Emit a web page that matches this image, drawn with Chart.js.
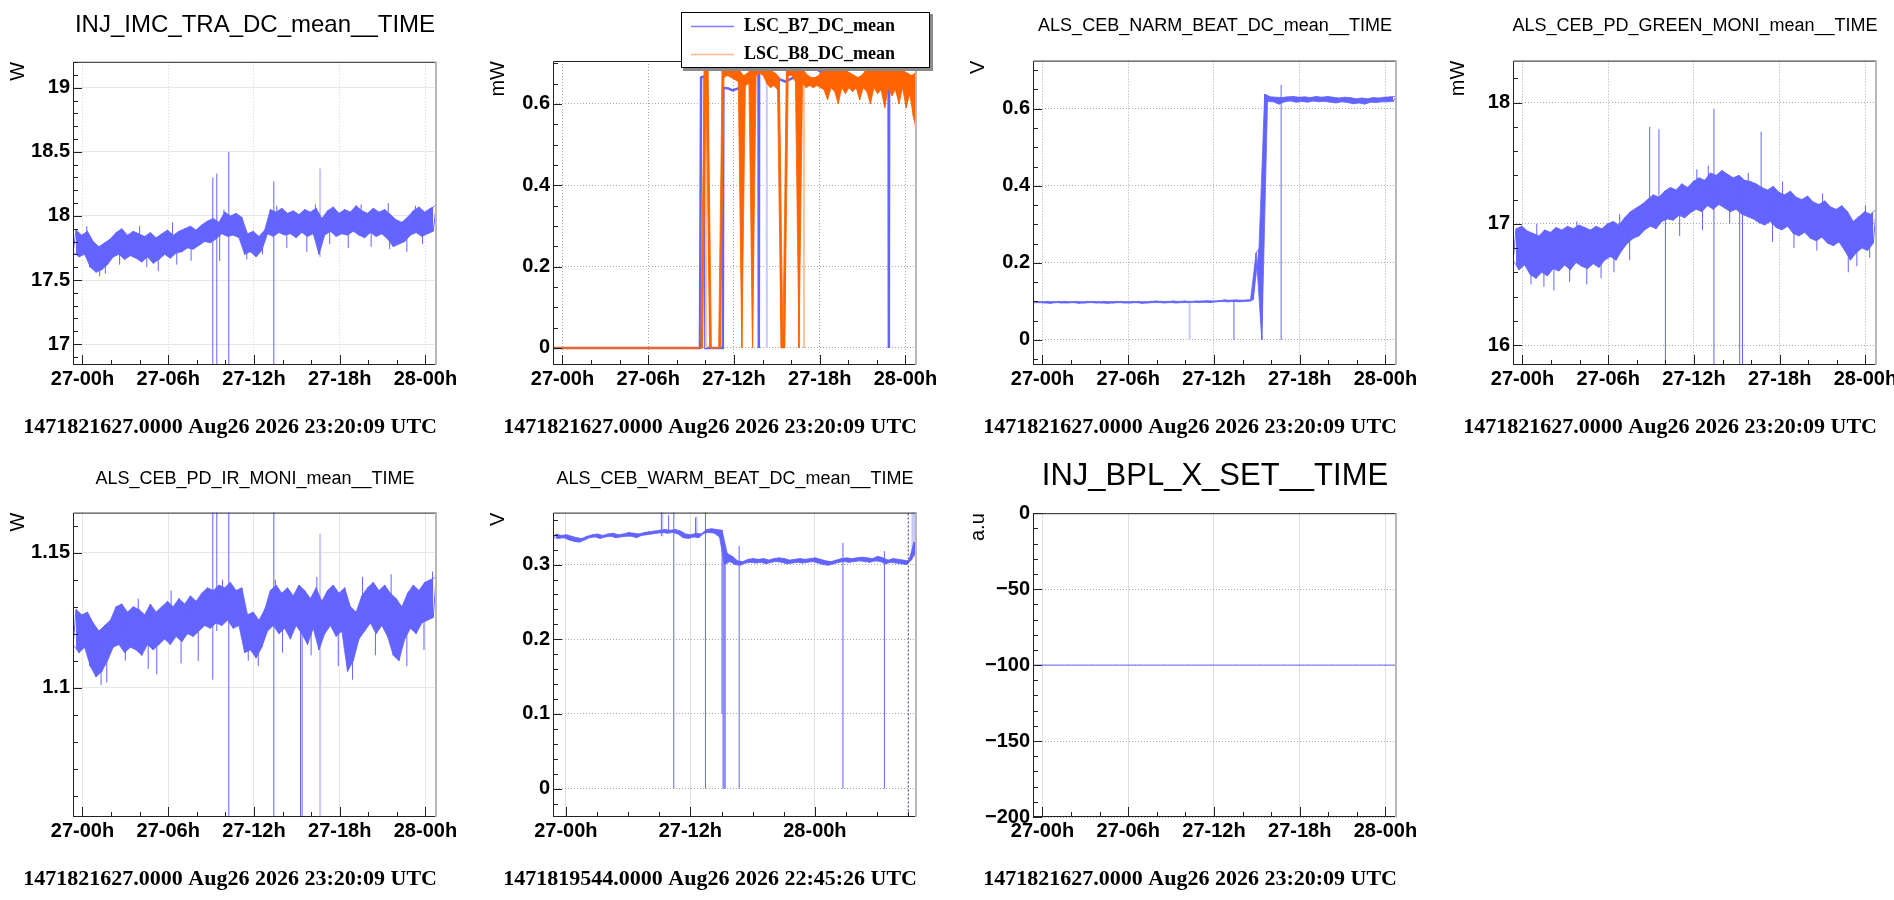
<!DOCTYPE html>
<html>
<head>
<meta charset="utf-8">
<title>Detector channels trend</title>
<script src="https://cdn.jsdelivr.net/npm/chart.js@4.4.1/dist/chart.umd.min.js"></script>
<style>
html, body { margin: 0; padding: 0; background: #fff; width: 1894px; height: 900px; overflow: hidden; }
canvas { position: absolute; }
</style>
</head>
<body>
<canvas id="imcChart" width="510" height="452" style="left:0px;top:0px;width:510px;height:452px"></canvas>
<canvas id="lscChart" width="510" height="452" style="left:480px;top:0px;width:510px;height:452px"></canvas>
<canvas id="narmChart" width="510" height="452" style="left:960px;top:0px;width:510px;height:452px"></canvas>
<canvas id="greenChart" width="510" height="452" style="left:1440px;top:0px;width:510px;height:452px"></canvas>
<canvas id="irChart" width="510" height="452" style="left:0px;top:452px;width:510px;height:452px"></canvas>
<canvas id="warmChart" width="510" height="452" style="left:480px;top:452px;width:510px;height:452px"></canvas>
<canvas id="bplChart" width="510" height="452" style="left:960px;top:452px;width:510px;height:452px"></canvas>
<script>
// Time axis: hours counted from 27-00h
const timeTickHours = [0, 6, 12, 18, 24];
const timeTickLabels = ['27-00h', '27-06h', '27-12h', '27-18h', '28-00h'];
const warmTickHours = [0, 12, 24];
const warmTickLabels = ['27-00h', '27-12h', '28-00h'];

// Y tick labels
const imcTicks = [17, 17.5, 18, 18.5, 19];
const lscTicks = [0, 0.2, 0.4, 0.6];
const narmTicks = [0, 0.2, 0.4, 0.6];
const greenTicks = [16, 17, 18];
const irTicks = [1.1, 1.15];
const warmTicks = [0, 0.1, 0.2, 0.3];
const bplTicks = [0, -50, -100, -150, -200];

// INJ_IMC_TRA_DC_mean : min/max per 0.4 h bin, first bin at -0.65 h
const imcBinStart = -0.65, imcBinWidth = 0.4;
const imcMax = [17.89,17.85,17.88,17.80,17.76,17.79,17.82,17.87,17.90,17.85,17.88,17.86,17.84,17.87,17.83,17.86,17.89,17.85,17.88,17.90,17.92,17.89,17.93,17.96,17.98,17.95,18.03,18.00,18.02,17.99,17.86,17.88,17.84,17.89,18.05,18.03,18.06,18.02,18.04,18.01,18.05,18.03,18.06,17.98,18.04,18.07,18.02,18.05,18.03,18.08,18.04,18.02,18.06,18.03,18.05,18.01,17.97,17.95,17.99,18.04,18.07,18.03,18.06,18.08];
const imcMin = [17.72,17.68,17.70,17.60,17.56,17.58,17.62,17.68,17.70,17.66,17.69,17.67,17.64,17.68,17.63,17.66,17.70,17.67,17.71,17.72,17.75,17.74,17.77,17.80,17.79,17.82,17.86,17.84,17.85,17.83,17.70,17.72,17.68,17.73,17.86,17.84,17.87,17.85,17.86,17.83,17.87,17.84,17.86,17.70,17.85,17.88,17.84,17.86,17.85,17.88,17.85,17.83,17.87,17.84,17.86,17.82,17.76,17.78,17.80,17.85,17.87,17.84,17.86,17.88];
const imcNeedleTime = [0.3, 0.5, 1.2, 1.6, 2.6, 4.0, 4.5, 5.3, 6.3, 6.6, 7.6, 9.6, 9.9, 11.5, 12.6, 13.6, 14.3, 15.7, 16.3, 17.3, 18.6, 19.5, 20.2, 21.4, 21.5, 22.7, 23.3, 23.8];
const imcNeedleLow = [17.80, 17.60, 17.53, 17.55, 17.62, 17.78, 17.60, 17.57, 17.80, 17.62, 17.65, 17.65, 17.92, 17.66, 17.70, 17.95, 17.75, 17.72, 17.95, 17.78, 17.75, 17.95, 17.76, 17.95, 17.74, 17.72, 17.95, 17.78];
const imcNeedleHigh = [17.92, 17.75, 17.70, 17.70, 17.78, 17.92, 17.75, 17.75, 17.95, 17.78, 17.82, 17.90, 18.05, 17.80, 17.82, 18.08, 17.92, 17.90, 18.09, 17.95, 17.92, 18.09, 17.92, 18.10, 17.92, 17.90, 18.08, 17.95];
const imcSpikeTime = [9.12, 9.40, 10.24, 13.39];
const imcSpikeLow = [0, 0, 0, 0];
const imcSpikeHigh = [18.30, 18.33, 18.50, 18.27];
const imcFaintTime = [16.63];
const imcFaintLow = [17.68];
const imcFaintHigh = [18.37];

// LSC_B7_DC_mean / LSC_B8_DC_mean
const b7Time = [-0.66, 9.62, 9.66, 9.70, 9.95, 10.00, 11.22, 11.26, 11.6, 11.9, 12.3, 12.8, 13.3, 13.72, 13.74, 13.76, 14.3, 14.8, 15.2, 15.6, 16.2, 16.7, 17.2, 17.8, 18.5, 19.2, 19.9, 20.6, 21.3, 22.0, 22.5, 22.82, 22.84, 22.86, 23.5, 24.2, 24.78, 24.80];
const b7Value = [0, 0, 0.33, 0.665, 0.668, 0, 0, 0.640, 0.638, 0.633, 0.638, 0.655, 0.672, 0.690, 0, 0.690, 0.680, 0.670, 0.660, 0.655, 0.665, 0.680, 0.690, 0.685, 0.670, 0.655, 0.645, 0.655, 0.675, 0.690, 0.685, 0.680, 0, 0.680, 0.670, 0.660, 0.655, 0];
const b7FaintTime = [14.3];
const b7FaintLow = [0];
const b7FaintHigh = [0.68];
const b8LeadTime = [-0.66];
const b8LeadValue = [0];
const b8BinStart = 9.55, b8BinWidth = 0.25;
const b8Min = [0.000,0.000,0.660,0.000,0.000,0.000,0.000,0.665,0.670,0.665,0.660,0.655,0.000,0.645,0.650,0.000,0.670,0.675,0.670,0.650,0.640,0.645,0.635,0.000,0.000,0.670,0.670,0.655,0.000,0.650,0.640,0.645,0.640,0.645,0.640,0.635,0.610,0.640,0.630,0.600,0.640,0.625,0.640,0.630,0.640,0.610,0.640,0.630,0.600,0.640,0.625,0.635,0.590,0.640,0.620,0.635,0.600,0.640,0.590,0.625,0.570,0.530];
const b8Max = [0.000,0.700,0.705,0.000,0.000,0.000,0.680,0.695,0.700,0.705,0.690,0.680,0.670,0.675,0.685,0.690,0.700,0.705,0.700,0.690,0.680,0.675,0.665,0.020,0.685,0.700,0.705,0.695,0.685,0.680,0.670,0.665,0.665,0.670,0.680,0.690,0.695,0.700,0.705,0.700,0.690,0.680,0.675,0.670,0.665,0.670,0.680,0.690,0.695,0.700,0.700,0.705,0.705,0.700,0.695,0.690,0.685,0.680,0.675,0.670,0.675,0.660];
const b8FaintTime = [10.05, 16.9];
const b8FaintLow = [0, 0];
const b8FaintHigh = [0.66, 0.66];

// ALS_CEB_NARM_BEAT_DC_mean
const narmBinStart = -0.65, narmBinWidth = 0.4;
const narmMax = [0.100,0.099,0.100,0.099,0.100,0.100,0.099,0.100,0.099,0.100,0.100,0.099,0.100,0.099,0.100,0.100,0.099,0.100,0.100,0.099,0.100,0.101,0.100,0.100,0.101,0.100,0.101,0.100,0.101,0.101,0.102,0.101,0.102,0.104,0.103,0.104,0.103,0.104,0.105,0.236,0.638,0.631,0.630,0.629,0.631,0.632,0.630,0.631,0.629,0.632,0.630,0.632,0.630,0.628,0.630,0.629,0.626,0.628,0.626,0.629,0.628,0.630,0.631,0.632];
const narmMin = [0.096,0.097,0.096,0.095,0.097,0.096,0.096,0.097,0.095,0.096,0.097,0.096,0.096,0.095,0.096,0.097,0.096,0.096,0.097,0.095,0.096,0.097,0.097,0.096,0.097,0.096,0.097,0.097,0.098,0.097,0.098,0.097,0.099,0.100,0.099,0.100,0.099,0.100,0.101,0.226,0.000,0.619,0.618,0.612,0.618,0.620,0.617,0.619,0.617,0.620,0.618,0.619,0.617,0.615,0.618,0.616,0.613,0.615,0.612,0.617,0.616,0.618,0.618,0.619];
const narmSpikeTime = [13.4, 16.7];
const narmSpikeLow = [0, 0];
const narmSpikeHigh = [0.104, 0.662];
const narmFaintTime = [10.3];
const narmFaintLow = [0];
const narmFaintHigh = [0.097];

// ALS_CEB_PD_GREEN_MONI_mean
const greenBinStart = -0.65, greenBinWidth = 0.4;
const greenMax = [16.96,16.98,16.94,16.92,16.90,16.95,16.93,16.97,16.95,16.98,16.96,16.99,16.97,16.95,16.98,16.96,17.00,17.02,16.99,17.05,17.10,17.13,17.16,17.20,17.24,17.22,17.27,17.30,17.28,17.33,17.30,17.35,17.38,17.36,17.42,17.40,17.44,17.41,17.38,17.40,17.36,17.35,17.33,17.30,17.28,17.31,17.26,17.24,17.27,17.22,17.20,17.23,17.18,17.16,17.19,17.14,17.12,17.15,17.10,17.02,17.06,17.10,17.08,17.12];
const greenMin = [16.70,16.62,16.66,16.58,16.55,16.60,16.57,16.63,16.61,16.66,16.62,16.68,16.65,16.63,16.67,16.64,16.70,16.73,16.70,16.78,16.84,16.88,16.90,16.95,16.98,16.96,17.02,17.04,17.03,17.07,17.05,17.09,17.12,17.10,17.15,17.12,17.16,17.13,17.10,17.12,17.08,17.06,17.04,17.01,16.99,17.02,16.97,16.95,16.98,16.92,16.90,16.93,16.88,16.86,16.89,16.84,16.82,16.85,16.78,16.70,16.76,16.80,16.78,16.84];
const greenNeedleTime = [0.6, 1.0, 1.5, 2.2, 3.3, 3.8, 4.5, 5.5, 6.4, 6.8, 7.5, 11.0, 12.2, 12.6, 13.0, 14.5, 15.8, 17.5, 18.2, 19.0, 20.6, 21.0, 22.8, 23.4, 24.0, 24.3];
const greenNeedleLow = [16.50, 16.85, 16.48, 16.45, 16.52, 16.85, 16.50, 16.55, 16.60, 16.95, 16.70, 16.90, 17.30, 16.95, 17.30, 17.00, 17.30, 16.85, 17.20, 16.80, 16.78, 17.10, 16.60, 16.65, 17.00, 16.72];
const greenNeedleHigh = [16.75, 17.00, 16.70, 16.68, 16.75, 17.02, 16.72, 16.78, 16.82, 17.08, 16.95, 17.15, 17.45, 17.20, 17.48, 17.25, 17.42, 17.10, 17.35, 17.05, 17.00, 17.25, 16.85, 16.88, 17.15, 16.95];
const greenSpikeTime = [8.9, 9.55, 10.0, 13.4, 15.2, 15.4, 16.7];
const greenSpikeLow = [17.0, 17.05, 0, 0, 0, 0, 17.1];
const greenSpikeHigh = [17.80, 17.78, 17.15, 17.95, 17.3, 17.3, 17.76];

// ALS_CEB_PD_IR_MONI_mean
const irBinStart = -0.65, irBinWidth = 0.4;
const irMax = [1.129,1.127,1.128,1.124,1.121,1.123,1.125,1.130,1.131,1.128,1.130,1.129,1.127,1.131,1.128,1.130,1.132,1.130,1.133,1.131,1.134,1.132,1.135,1.137,1.136,1.138,1.137,1.139,1.136,1.137,1.127,1.128,1.125,1.129,1.136,1.138,1.135,1.137,1.134,1.138,1.136,1.133,1.137,1.132,1.136,1.138,1.135,1.137,1.130,1.128,1.134,1.137,1.139,1.136,1.138,1.135,1.133,1.130,1.135,1.138,1.136,1.139,1.140,1.141];
const irMin = [1.116,1.113,1.115,1.108,1.104,1.106,1.110,1.115,1.116,1.113,1.115,1.114,1.112,1.116,1.114,1.116,1.118,1.116,1.119,1.117,1.120,1.119,1.121,1.123,1.122,1.124,1.123,1.125,1.122,1.123,1.113,1.114,1.111,1.115,1.121,1.123,1.120,1.122,1.118,1.123,1.120,1.116,1.122,1.114,1.120,1.123,1.119,1.121,1.106,1.110,1.118,1.121,1.124,1.120,1.123,1.119,1.112,1.110,1.118,1.122,1.120,1.124,1.125,1.126];
const irNeedleTime = [0.5, 1.3, 1.7, 3.0, 3.9, 4.6, 5.2, 6.2, 6.9, 8.1, 9.8, 11.6, 12.3, 13.5, 14.0, 16.0, 16.4, 17.9, 18.9, 19.6, 20.5, 21.6, 22.7, 23.9, 24.5];
const irNeedleLow = [1.108, 1.101, 1.102, 1.110, 1.125, 1.107, 1.105, 1.128, 1.109, 1.110, 1.130, 1.110, 1.108, 1.130, 1.113, 1.112, 1.130, 1.108, 1.103, 1.130, 1.112, 1.130, 1.108, 1.114, 1.132];
const irNeedleHigh = [1.120, 1.115, 1.115, 1.122, 1.133, 1.120, 1.118, 1.136, 1.122, 1.124, 1.140, 1.122, 1.120, 1.140, 1.126, 1.125, 1.141, 1.122, 1.118, 1.141, 1.125, 1.142, 1.122, 1.126, 1.143];
const irSpikeTime = [9.12, 9.40, 10.24, 13.39, 15.26, 15.37];
const irSpikeLow = [1.103, 1.121, 0, 0, 0, 0];
const irSpikeHigh = [1.20, 1.20, 1.20, 1.20, 1.128, 1.127];
const irFaintTime = [16.63];
const irFaintLow = [0];
const irFaintHigh = [1.157];

// ALS_CEB_WARM_BEAT_DC_mean : 0.5 h bins from -1.2 h
const warmBinStart = -1.2, warmBinWidth = 0.5;
const warmMax = [0.341,0.339,0.340,0.338,0.336,0.335,0.338,0.340,0.341,0.339,0.341,0.342,0.340,0.341,0.343,0.342,0.341,0.343,0.344,0.345,0.346,0.347,0.346,0.347,0.345,0.341,0.340,0.342,0.341,0.347,0.348,0.347,0.346,0.315,0.311,0.305,0.304,0.307,0.308,0.307,0.308,0.306,0.308,0.309,0.308,0.306,0.307,0.308,0.307,0.308,0.309,0.307,0.305,0.304,0.306,0.308,0.309,0.308,0.309,0.310,0.309,0.308,0.311,0.309,0.306,0.308,0.307,0.306,0.305,0.330,0.328];
const warmMin = [0.336,0.335,0.336,0.333,0.331,0.330,0.333,0.336,0.337,0.335,0.337,0.338,0.336,0.337,0.338,0.338,0.336,0.339,0.340,0.341,0.342,0.343,0.342,0.343,0.341,0.336,0.335,0.337,0.336,0.342,0.343,0.342,0.337,0.300,0.304,0.300,0.299,0.302,0.303,0.302,0.303,0.301,0.303,0.304,0.303,0.301,0.302,0.303,0.302,0.303,0.304,0.302,0.300,0.299,0.301,0.303,0.304,0.303,0.304,0.305,0.304,0.303,0.305,0.304,0.301,0.303,0.302,0.301,0.300,0.306,0.319];
const warmSpikeTime = [9.2, 9.9, 10.4, 12.5, 13.45, 15.05, 15.15, 15.25, 15.35, 16.7, 26.7, 30.7];
const warmSpikeLow = [0.338, 0.342, 0, 0.340, 0, 0.10, 0, 0, 0, 0, 0, 0];
const warmSpikeHigh = [0.40, 0.366, 0.40, 0.363, 0.40, 0.33, 0.32, 0.31, 0.31, 0.325, 0.329, 0.318];
const warmFaintTime = [9.3, 12.6, 33.4, 33.6, 33.8];
const warmFaintLow = [0.338, 0.340, 0.31, 0.31, 0.31];
const warmFaintHigh = [0.37, 0.364, 0.40, 0.40, 0.40];
const warmMarkTime = [33.0];
const warmMarkLow = [-1];
const warmMarkHigh = [1];

// INJ_BPL_X_SET
const bplTime = [-0.66, 24.9];
const bplValue = [-100, -100];

const SANS = '"Liberation Sans", Arial, Helvetica, sans-serif';
const SERIF = '"Liberation Serif", "Times New Roman", serif';
const BLUE = '#6464ff';
const BLUE_FAINT = '#c8c8ff';
const ORANGE = '#ff6400';
const ORANGE_FAINT = '#ffc49a';
const CAPTION = '1471821627.0000 Aug26 2026 23:20:09 UTC';
const CAPTION_WARM = '1471819544.0000 Aug26 2026 22:45:26 UTC';

// Build points from min/max bins (min at bin start, max half a bin later)
function binPoints(start, width, mins, maxs) {
    const pts = [];
    for (let i = 0; i < mins.length; i++) {
        pts.push({ x: start + i * width, y: mins[i] });
        pts.push({ x: start + i * width + width / 2, y: maxs[i] });
    }
    return pts;
}

function edgePoints(start, width, values, shift) {
    return values.map((v, i) => ({ x: start + i * width + shift, y: v }));
}

function spikePoints(times, lows, highs) {
    const pts = [];
    times.forEach((t, i) => {
        pts.push({ x: t, y: lows[i] }, { x: t, y: highs[i] }, { x: t, y: null });
    });
    return pts;
}

function pairPoints(times, values) {
    return times.map((t, i) => ({ x: t, y: values[i] }));
}

function lineSet(data, color, width, extra) {
    return Object.assign({
        data: data,
        borderColor: color,
        backgroundColor: color,
        borderWidth: width,
        pointRadius: 0,
        fill: false,
        tension: 0,
        spanGaps: false
    }, extra || {});
}

// Filled min/max band: upper edge, lower edge filled up to it, zigzag on top
function bandSets(start, width, mins, maxs, color, order, extra) {
    return [
        lineSet(edgePoints(start, width, maxs, width / 2), color, 0.8, { order: order }),
        lineSet(edgePoints(start, width, mins, 0), color, 0.8, { order: order, fill: '-1' }),
        lineSet(binPoints(start, width, mins, maxs), color, 1, Object.assign({ order: order - 0.5 }, extra || {}))
    ];
}

function fmtNum(v) {
    return String(Math.round(v * 1000) / 1000).replace('-', '\u2212');
}

function minorValues(min, max, step) {
    const out = [];
    if (!step) return out;
    for (let k = Math.ceil(min / step - 1e-9); k * step <= max + 1e-9; k++) out.push(k * step);
    return out;
}

// ROOT-like frame, inward ticks, bottom caption and boxed legend
const rootDecor = {
    id: 'rootDecor',
    afterDraw(chart, args, o) {
        const { ctx, chartArea: a } = chart;
        const sx = chart.scales.x, sy = chart.scales.y;
        ctx.save();

        ctx.lineWidth = 1;
        ctx.strokeStyle = '#222';
        ctx.beginPath();
        ctx.moveTo(a.left + 0.5, a.bottom);
        ctx.lineTo(a.left + 0.5, a.top + 0.5);
        ctx.lineTo(a.right, a.top + 0.5);
        ctx.moveTo(a.left, a.bottom - 0.5);
        ctx.lineTo(a.right, a.bottom - 0.5);
        ctx.stroke();
        ctx.strokeStyle = '#b8b8b8';
        ctx.lineWidth = 2;
        ctx.beginPath();
        ctx.moveTo(a.right - 1, a.top);
        ctx.lineTo(a.right - 1, a.bottom);
        ctx.stroke();

        ctx.lineWidth = 1;
        ctx.strokeStyle = '#222';
        ctx.beginPath();
        sy.ticks.forEach(t => {
            const p = Math.round(sy.getPixelForValue(t.value)) + 0.5;
            ctx.moveTo(a.left, p); ctx.lineTo(a.left + 9, p);
        });
        minorValues(sy.min, sy.max, o.yMinor).forEach(v => {
            const p = Math.round(sy.getPixelForValue(v)) + 0.5;
            ctx.moveTo(a.left, p); ctx.lineTo(a.left + 5, p);
        });
        sx.ticks.forEach(t => {
            const p = Math.round(sx.getPixelForValue(t.value)) + 0.5;
            ctx.moveTo(p, a.bottom); ctx.lineTo(p, a.bottom - 10);
        });
        minorValues(sx.min, sx.max, o.xMinor).forEach(v => {
            const p = Math.round(sx.getPixelForValue(v)) + 0.5;
            ctx.moveTo(p, a.bottom); ctx.lineTo(p, a.bottom - 5);
        });
        ctx.stroke();

        if (o.caption) {
            ctx.fillStyle = '#000';
            ctx.font = 'bold 22px ' + SERIF;
            ctx.textAlign = 'right';
            ctx.textBaseline = 'middle';
            ctx.fillText(o.caption, a.right, a.bottom + 62);
        }

        if (o.legendBox) {
            const [lx, ly, lw, lh] = o.legendBox;
            ctx.fillStyle = '#8a8a8a';
            ctx.fillRect(lx + 2, ly + 2, lw + 1, lh + 1);
            ctx.fillStyle = '#fff';
            ctx.fillRect(lx, ly, lw, lh);
            ctx.strokeStyle = '#000';
            ctx.lineWidth = 1;
            ctx.strokeRect(lx + 0.5, ly + 0.5, lw - 1, lh - 1);
            const items = chart.data.datasets.filter(d => d.label);
            items.forEach((d, i) => {
                const cy = Math.round(ly + lh * (i + 0.5) / items.length) + 0.5;
                ctx.strokeStyle = d.legendColor || d.borderColor;
                ctx.lineWidth = 1.5;
                ctx.beginPath();
                ctx.moveTo(lx + 10, cy);
                ctx.lineTo(lx + 53, cy);
                ctx.stroke();
                ctx.fillStyle = '#000';
                ctx.font = 'bold 18px ' + SERIF;
                ctx.textAlign = 'left';
                ctx.textBaseline = 'middle';
                ctx.fillText(d.label, lx + 63, cy);
            });
        }
        ctx.restore();
    }
};

const DOT = [1, 2];
const SOLID = [];

function makePanel(id, p) {
    const xTicks = p.xTicks, xLabels = p.xLabels, yTicks = p.yTicks;
    return new Chart(document.getElementById(id), {
        type: 'line',
        data: { datasets: p.datasets },
        options: {
            responsive: false,
            animation: false,
            events: [],
            layout: { padding: { top: p.title ? 0 : 61 } },
            plugins: {
                legend: { display: false },
                tooltip: { enabled: false },
                filler: { propagate: false },
                title: {
                    display: !!p.title,
                    text: p.title || '',
                    color: '#000',
                    font: { family: SANS, size: p.titleSize, weight: 'normal', lineHeight: 1.2 },
                    padding: { top: p.titlePad[0], bottom: p.titlePad[1] }
                },
                rootDecor: { xMinor: p.xMinor, yMinor: p.yMinor, caption: p.caption, legendBox: p.legendBox }
            },
            scales: {
                x: {
                    type: 'linear',
                    position: 'bottom',
                    min: p.xMin,
                    max: p.xMax,
                    afterBuildTicks: s => { s.ticks = xTicks.map(v => ({ value: v })); },
                    afterFit: s => { s.height = 87; },
                    ticks: {
                        autoSkip: false, maxRotation: 0, padding: 2, color: '#000',
                        font: { family: SANS, size: 20, weight: 'bold', lineHeight: 1.2 },
                        callback: (v, i) => xLabels[i]
                    },
                    grid: { color: p.xGrid[0], lineWidth: 1, drawTicks: false },
                    border: { display: false, dash: p.xGrid[1] }
                },
                y: {
                    type: 'linear',
                    position: 'left',
                    min: p.yMin,
                    max: p.yMax,
                    afterBuildTicks: s => { s.ticks = yTicks.map(v => ({ value: v })); },
                    afterFit: s => { s.width = 73; },
                    ticks: {
                        autoSkip: false, padding: 3, color: '#000',
                        font: { family: SANS, size: 20, weight: 'bold' },
                        callback: v => fmtNum(v)
                    },
                    grid: { color: p.yGrid[0], lineWidth: 1, drawTicks: false },
                    border: { display: false, dash: p.yGrid[1] },
                    title: {
                        display: true, text: p.unit, align: 'end', color: '#000',
                        font: { family: SANS, size: 20, weight: 'normal', lineHeight: 1.2 },
                        padding: { top: 6, bottom: 0 }
                    }
                },
                yr: {
                    type: 'linear',
                    position: 'right',
                    display: true,
                    grid: { display: false, drawTicks: false },
                    border: { display: false },
                    ticks: { display: false },
                    afterFit: s => { s.width = 73; }
                }
            }
        },
        plugins: [rootDecor]
    });
}

const dayRange = { xMin: -0.664, xMax: 24.81, xTicks: timeTickHours, xLabels: timeTickLabels, xMinor: 2 };
const smallTitleTop = { titleSize: 18, titlePad: [15, 24] };

makePanel('imcChart', Object.assign({}, dayRange, {
    title: 'INJ_IMC_TRA_DC_mean__TIME', titleSize: 24, titlePad: [11, 22],
    unit: 'W', yMin: 16.837, yMax: 19.202, yTicks: imcTicks, yMinor: 0.1,
    xGrid: ['#d4d4d4', DOT], yGrid: ['#e6e6e6', SOLID],
    caption: CAPTION,
    datasets: [
        lineSet(spikePoints(imcSpikeTime, imcSpikeLow, imcSpikeHigh), BLUE, 1, { order: 1 }),
        lineSet(spikePoints(imcNeedleTime, imcNeedleLow, imcNeedleHigh), BLUE, 1, { order: 2 }),
        ...bandSets(imcBinStart, imcBinWidth, imcMin, imcMax, BLUE, 3),
        lineSet(spikePoints(imcFaintTime, imcFaintLow, imcFaintHigh), BLUE_FAINT, 2, { order: 4 })
    ]
}));

makePanel('lscChart', Object.assign({}, dayRange, {
    title: null, titleSize: 18, titlePad: [0, 0],
    unit: 'mW', yMin: -0.042, yMax: 0.7055, yTicks: lscTicks, yMinor: 0.05,
    xGrid: ['#a8a8a8', DOT], yGrid: ['#a8a8a8', DOT],
    caption: CAPTION,
    legendBox: [201, 12, 249, 56],
    datasets: [
        lineSet(pairPoints(b7Time, b7Value), BLUE, 2.5, { label: 'LSC_B7_DC_mean', order: 5, legendColor: '#8080ff' }),
        ...bandSets(b8BinStart, b8BinWidth, b8Min, b8Max, ORANGE, 2, { label: 'LSC_B8_DC_mean', legendColor: '#ffb98a' }),
        lineSet(pairPoints(b8LeadTime.concat([b8BinStart]), b8LeadValue.concat([b8Min[0]])), ORANGE, 2, { order: 1 }),
        lineSet(spikePoints(b7FaintTime, b7FaintLow, b7FaintHigh), BLUE_FAINT, 2, { order: 6 }),
        lineSet(spikePoints(b8FaintTime, b8FaintLow, b8FaintHigh), ORANGE_FAINT, 2, { order: 4 })
    ]
}));

makePanel('narmChart', Object.assign({}, dayRange, smallTitleTop, {
    title: 'ALS_CEB_NARM_BEAT_DC_mean__TIME',
    unit: 'V', yMin: -0.065, yMax: 0.725, yTicks: narmTicks, yMinor: 0.05,
    xGrid: ['#a8a8a8', DOT], yGrid: ['#a8a8a8', DOT],
    caption: CAPTION,
    datasets: [
        lineSet(spikePoints(narmSpikeTime, narmSpikeLow, narmSpikeHigh), BLUE, 1, { order: 1 }),
        ...bandSets(narmBinStart, narmBinWidth, narmMin, narmMax, BLUE, 3),
        lineSet(spikePoints(narmFaintTime, narmFaintLow, narmFaintHigh), BLUE_FAINT, 2, { order: 4 })
    ]
}));

makePanel('greenChart', Object.assign({}, dayRange, smallTitleTop, {
    title: 'ALS_CEB_PD_GREEN_MONI_mean__TIME',
    unit: 'mW', yMin: 15.835, yMax: 18.347, yTicks: greenTicks, yMinor: 0.2,
    xGrid: ['#a8a8a8', DOT], yGrid: ['#a8a8a8', DOT],
    caption: CAPTION,
    datasets: [
        lineSet(spikePoints(greenSpikeTime, greenSpikeLow, greenSpikeHigh), BLUE, 1, { order: 1 }),
        lineSet(spikePoints(greenNeedleTime, greenNeedleLow, greenNeedleHigh), BLUE, 1, { order: 2 }),
        ...bandSets(greenBinStart, greenBinWidth, greenMin, greenMax, BLUE, 3)
    ]
}));

makePanel('irChart', Object.assign({}, dayRange, {
    title: 'ALS_CEB_PD_IR_MONI_mean__TIME', titleSize: 18, titlePad: [16, 23],
    unit: 'W', yMin: 1.0522, yMax: 1.1648, yTicks: irTicks, yMinor: 0.01,
    xGrid: ['#e6e6e6', SOLID], yGrid: ['#e6e6e6', SOLID],
    caption: CAPTION,
    datasets: [
        lineSet(spikePoints(irSpikeTime, irSpikeLow, irSpikeHigh), BLUE, 1, { order: 1 }),
        lineSet(spikePoints(irNeedleTime, irNeedleLow, irNeedleHigh), BLUE, 1, { order: 2 }),
        ...bandSets(irBinStart, irBinWidth, irMin, irMax, BLUE, 3),
        lineSet(spikePoints(irFaintTime, irFaintLow, irFaintHigh), BLUE_FAINT, 2, { order: 4 })
    ]
}));

makePanel('warmChart', {
    title: 'ALS_CEB_WARM_BEAT_DC_mean__TIME', titleSize: 18, titlePad: [16, 23],
    xMin: -1.243, xMax: 33.84, xTicks: warmTickHours, xLabels: warmTickLabels, xMinor: 3,
    unit: 'V', yMin: -0.038, yMax: 0.3696, yTicks: warmTicks, yMinor: 0.02,
    xGrid: ['#e0e0e0', SOLID], yGrid: ['#a8a8a8', DOT],
    caption: CAPTION_WARM,
    datasets: [
        lineSet(spikePoints(warmMarkTime, warmMarkLow, warmMarkHigh), '#333366', 1, { order: 0, borderDash: [2, 2] }),
        lineSet(spikePoints(warmSpikeTime, warmSpikeLow, warmSpikeHigh), BLUE, 1, { order: 1 }),
        ...bandSets(warmBinStart, warmBinWidth, warmMin, warmMax, BLUE, 3),
        lineSet(spikePoints(warmFaintTime, warmFaintLow, warmFaintHigh), BLUE_FAINT, 2, { order: 4 })
    ]
});

makePanel('bplChart', Object.assign({}, dayRange, {
    title: 'INJ_BPL_X_SET__TIME', titleSize: 31, titlePad: [6, 18],
    unit: 'a.u', yMin: -200, yMax: 0, yTicks: bplTicks, yMinor: 10,
    xGrid: ['#e0e0e0', SOLID], yGrid: ['#a8a8a8', DOT],
    caption: CAPTION,
    datasets: [
        lineSet(pairPoints(bplTime, bplValue), BLUE, 1, { order: 1 })
    ]
}));
</script>
</body>
</html>
